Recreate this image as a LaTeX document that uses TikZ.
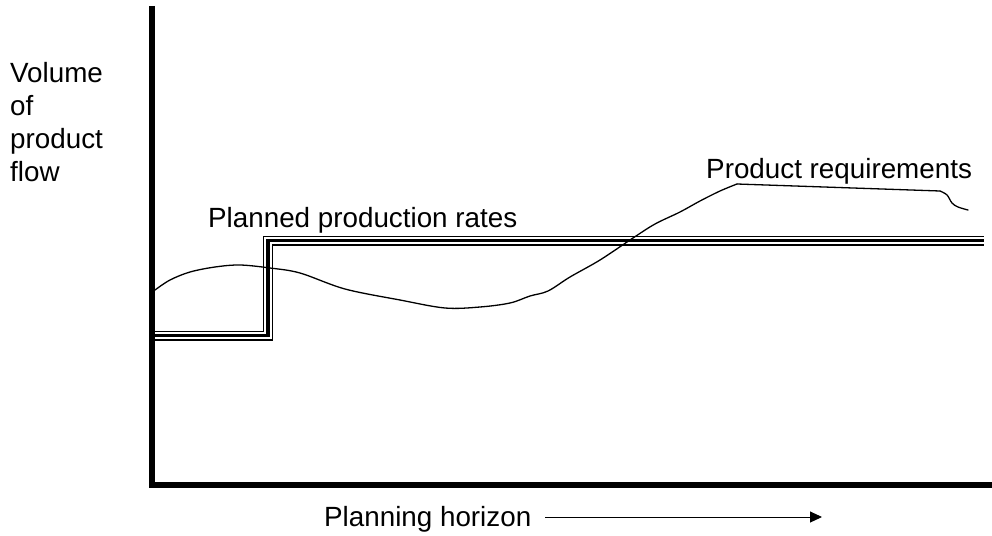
\documentclass[tikz,border=0pt]{standalone}
\usepackage{fontspec}
\setmainfont{Liberation Sans}
\usetikzlibrary{arrows.meta}
\tikzset{
  axisline/.style={line width=6pt, line cap=butt, line join=miter},
  lbl/.style={inner sep=0pt, font=\fontsize{27.8}{33}\selectfont},
  curveline/.style={line width=1.3pt, line join=round, line cap=round},
  prodouter/.style={line width=10pt, line join=miter, line cap=butt},
  prodgap/.style={line width=7.8pt, white, line join=miter, line cap=butt},
  prodinner/.style={line width=3.6pt, line join=miter, line cap=butt},
  horizarrow/.style={line width=1pt, -{Triangle[length=12pt,width=11pt]}}
}
\begin{document}
\begin{tikzpicture}[x=1pt,y=-1pt]
\useasboundingbox (0,0) rectangle (992,535);

% axes
\coordinate (ytop) at (152,6);
\coordinate (orig) at (152,485);
\coordinate (xend) at (992,485);
\draw[axisline] (ytop) -- (orig);
\draw[axisline] (149,485) -- (xend);

% labels
\node[lbl, anchor=north west, align=left] (vol) at (10,62.5) {Volume\\of\\product\\flow};
\node[lbl, anchor=base west] (ppr) at (208,227) {Planned production rates};
\node[lbl, anchor=base west] (preq) at (706,178) {Product requirements};
\node[lbl, anchor=base west] (ph) at (324,526) {Planning horizon};

% planned production rates (triple line)
\foreach \st in {prodouter,prodgap,prodinner}{
  \draw[\st] (155,335.5) -- (268,335.5) -- (268,240.5) -- (984,240.5);
}

% product requirements curve
\draw[curveline] plot[smooth, tension=0.55] coordinates {
  (155,290) (170,280) (190,272) (215,267) (240,265) (270,268) (300,273)
  (345,289) (400,300) (445,308) (480,307) (510,303) (530,296) (548,291)
  (570,277) (600,260) (633,238) (655,224) (680,212) (700,201) (720,191) (737,184)};
\draw[curveline] (737,184) -- (940,191);
\draw[curveline] plot[smooth, tension=0.6] coordinates {
  (940,191) (947,195) (952,203) (958,207) (968,210)};

% planning horizon arrow
\coordinate (hstart) at (545,517);
\coordinate (hend) at (822,517);
\draw[horizarrow] (hstart) -- (hend);
\end{tikzpicture}
\end{document}
